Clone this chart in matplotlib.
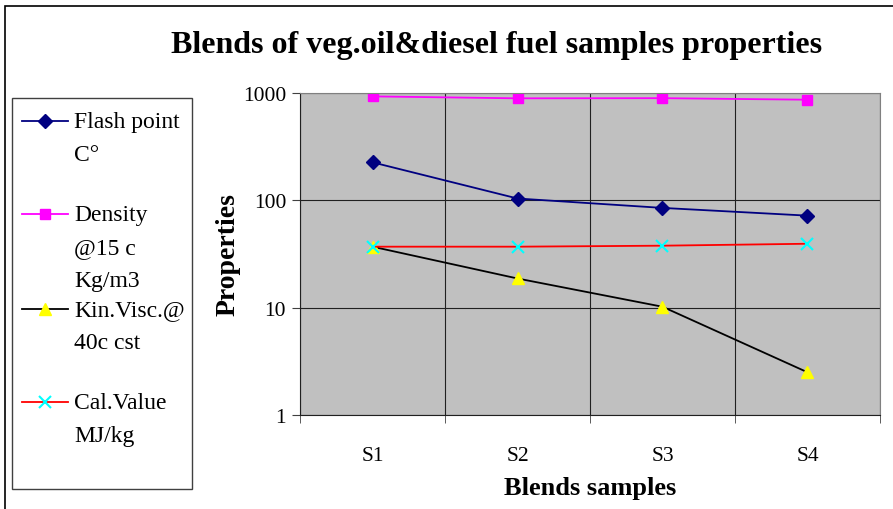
import matplotlib
matplotlib.use("Agg")
import matplotlib.pyplot as plt
from matplotlib.lines import Line2D
from matplotlib.patches import Rectangle

plt.rcParams['font.family'] = ['Liberation Serif', 'DejaVu Serif']

samples = ["S1", "S2", "S3", "S4"]
flash_point = [226, 104, 85, 72]
density = [930, 892, 895, 866]
kin_visc = [37, 18.7, 10.2, 2.5]
cal_value = [37, 37, 37.8, 39.4]

series_labels = ["Flash point\nC°", "Density\n@15 c\nKg/m3",
                 "Kin.Visc.@\n40c cst", "Cal.Value\nMJ/kg"]

W, H = 893, 510
fig = plt.figure(figsize=(W / 100, H / 100), dpi=100)
ax = fig.add_axes([300 / W, 1 - 416 / H, 580 / W, 322 / H])
ax.set_facecolor("#C0C0C0")

x = range(1, len(samples) + 1)
styles = [
    dict(color="#000080", marker="D", mfc="#000080", mec="#000080", ms=7),
    dict(color="#FF00FF", marker="s", mfc="#FF00FF", mec="#FF00FF", ms=7),
    dict(color="black", marker="^", mfc="#FFFF00", mec="#FFFF00", ms=9),
    dict(color="#FF0000", marker="x", mfc="#00FFFF", mec="#00FFFF", ms=8, mew=1.5),
]
data = [flash_point, density, kin_visc, cal_value]
for vals, st in zip(data, styles):
    ax.plot(x, vals, lw=1.3, **st)

ax.set_yscale("log")
ax.set_ylim(1, 1000)
ax.set_yticks([1, 10, 100, 1000])
ax.set_yticklabels(["1", "10", "100", "1000"])
ax.yaxis.set_minor_locator(matplotlib.ticker.NullLocator())
ax.set_xlim(0.5, 4.5)
ax.set_xticks(list(x))
ax.set_xticklabels(samples)
ax.set_xticks([0.5, 1.5, 2.5, 3.5, 4.5], minor=True)
ax.tick_params(axis="x", which="major", length=0, pad=22, labelsize=15.5)
ax.tick_params(axis="x", which="minor", length=6, direction="out", color="#404040")
ax.tick_params(axis="y", length=6, direction="out", labelsize=15.5, color="#404040", pad=4)
ax.grid(True, axis="y", which="major", color="#202020", lw=0.8)
ax.grid(True, axis="x", which="minor", color="#202020", lw=0.8)
for s in ax.spines.values():
    s.set_color("#808080")
ax.spines["left"].set_color("#202020")
ax.spines["bottom"].set_color("#202020")

ax.set_xlabel("Blends samples", fontsize=19, fontweight="bold", labelpad=8)
ax.set_ylabel("Properties", fontsize=20, fontweight="bold", labelpad=2)
fig.text(497 / W, 1 - 45 / H, "Blends of veg.oil&diesel fuel samples properties",
         fontsize=23, fontweight="bold", ha="center", va="center")

# outer chart frame
fig.patches.append(Rectangle((5 / W, -0.1), 1.1, 1 - 7 / H + 0.1, transform=fig.transFigure,
                             fill=False, ec="black", lw=1.2))

# legend box drawn by hand so multi-line labels line up like the original
fig.patches.append(Rectangle((12 / W, 1 - 490 / H), 180 / W, 391 / H, transform=fig.transFigure,
                             fill=False, ec="#404040", lw=1.0))
legend_y = [122, 215, 310, 403]
for ly, lab, st in zip(legend_y, series_labels, styles):
    yy = 1 - ly / H
    fig.add_artist(Line2D([22 / W, 45 / W, 68 / W], [yy, yy, yy], transform=fig.transFigure,
                          lw=1.3, markevery=[1], **st))
    fig.text(74 / W, yy + 10 / H, lab, fontsize=17, va="top", ha="left", linespacing=1.75)

fig.savefig("out.png", dpi=100)
